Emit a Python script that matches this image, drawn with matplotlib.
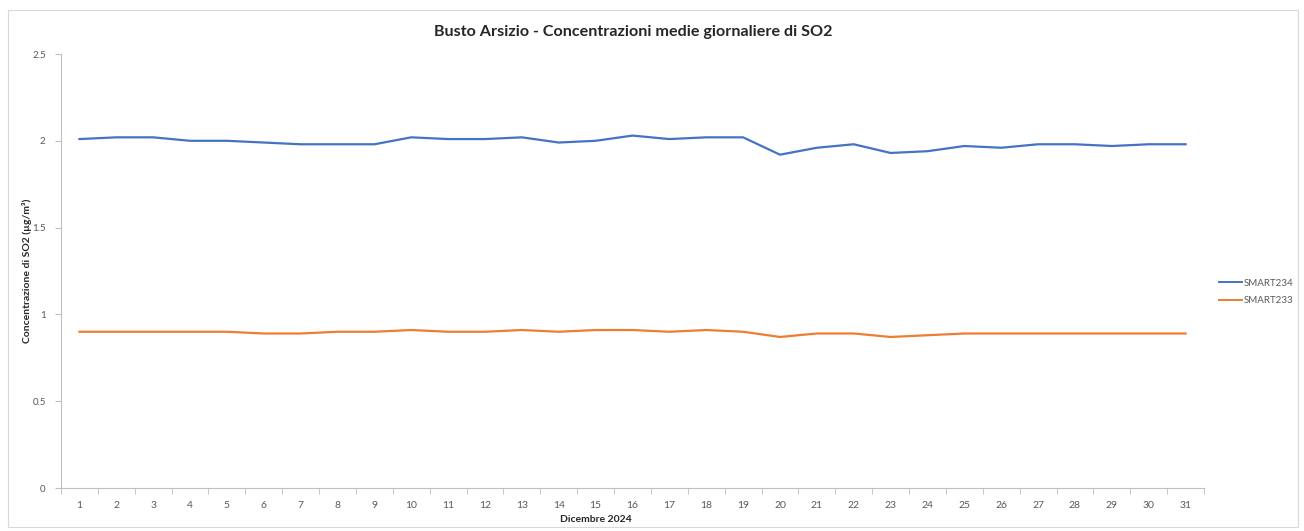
"""
Daily mean SO2 concentrations for two sensors in Busto Arsizio, December 2024.
"""

import matplotlib

matplotlib.use("Agg")
import matplotlib.pyplot as plt
from matplotlib.lines import Line2D
from matplotlib.patches import Rectangle

days = list(range(1, 32))
smart234 = [2.01, 2.02, 2.02, 2.00, 2.00, 1.99, 1.98, 1.98, 1.98, 2.02,
            2.01, 2.01, 2.02, 1.99, 2.00, 2.03, 2.01, 2.02, 2.02, 1.92,
            1.96, 1.98, 1.93, 1.94, 1.97, 1.96, 1.98, 1.98, 1.97, 1.98, 1.98]
smart233 = [0.90, 0.90, 0.90, 0.90, 0.90, 0.89, 0.89, 0.90, 0.90, 0.91,
            0.90, 0.90, 0.91, 0.90, 0.91, 0.91, 0.90, 0.91, 0.90, 0.87,
            0.89, 0.89, 0.87, 0.88, 0.89, 0.89, 0.89, 0.89, 0.89, 0.89, 0.89]
series_names = ["SMART234", "SMART233"]
y_ticks = [0, 0.5, 1, 1.5, 2, 2.5]
y_tick_labels = ["0", "0.5", "1", "1.5", "2", "2.5"]

BLUE = "#4472C4"
ORANGE = "#ED7D31"
GREY_TEXT = "#595959"
AXIS_GREY = "#BFBFBF"

plt.rcParams["font.family"] = ["Lato", "DejaVu Sans"]

W, H = 1304, 531
fig = plt.figure(figsize=(W / 100, H / 100), dpi=100)

# chart border
fig.patches.append(Rectangle((8 / W, 4 / H), 1290 / W, 517 / H, transform=fig.transFigure,
                             fill=False, edgecolor="#D9D9D9", linewidth=0.8))

ax = fig.add_axes([61 / W, 1 - 488 / H, (1204 - 61) / W, (488 - 54) / H])
ax.plot(days, smart234, color=BLUE, linewidth=1.6, solid_joinstyle="round")
ax.plot(days, smart233, color=ORANGE, linewidth=1.6, solid_joinstyle="round")

ax.set_xlim(0.5, 31.5)
ax.set_ylim(0, 2.5)

for side in ("top", "right"):
    ax.spines[side].set_visible(False)
for side in ("left", "bottom"):
    ax.spines[side].set_color(AXIS_GREY)
    ax.spines[side].set_linewidth(0.8)

ax.set_yticks(y_ticks)
ax.set_yticklabels(y_tick_labels)
ax.tick_params(axis="y", direction="out", length=4, color=AXIS_GREY, labelsize=7,
               labelcolor=GREY_TEXT, pad=7)

# category labels at centres, tick marks at boundaries
ax.set_xticks(days)
ax.set_xticklabels([str(d) for d in days])
ax.tick_params(axis="x", which="major", length=0, labelsize=7.5, labelcolor=GREY_TEXT, pad=9)
ax.set_xticks([d + 0.5 for d in [0] + days], minor=True)
ax.tick_params(axis="x", which="minor", direction="out", length=4, color=AXIS_GREY)

fig.text(27 / W, 1 - 271 / H, "Concentrazione di SO2 (µg/m³)", fontsize=7.5,
         fontweight="bold", color="#262626", rotation=90, ha="center", va="center")
fig.text(596 / W, 1 - 519 / H, "Dicembre 2024", fontsize=7.5, fontweight="bold",
         color="#262626", ha="center", va="center")

fig.text(633 / W, 1 - 32 / H, "Busto Arsizio - Concentrazioni medie giornaliere di SO2",
         fontsize=11.6, fontweight="bold", color="#262626", ha="center", va="center")

handles = [Line2D([], [], color=BLUE, linewidth=1.4),
           Line2D([], [], color=ORANGE, linewidth=1.4)]
fig.legend(handles, series_names, loc="center left",
           bbox_to_anchor=(1210 / W, 1 - 292 / H), frameon=False, fontsize=7,
           labelcolor=GREY_TEXT, handlelength=2.4, handletextpad=0.2, labelspacing=0.9)

fig.savefig("out.png", dpi=100, facecolor="white")
plt.close(fig)
